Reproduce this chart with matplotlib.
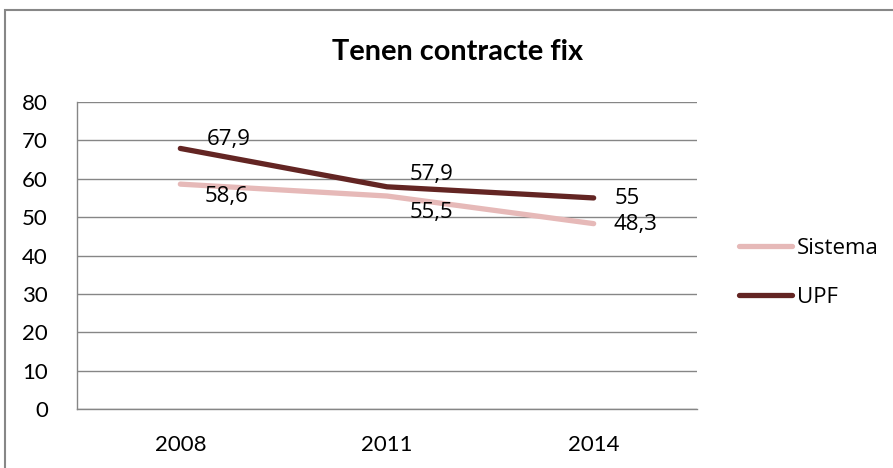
import matplotlib
matplotlib.use("Agg")
import matplotlib.pyplot as plt
from matplotlib.patches import Rectangle

categories = ["2008", "2011", "2014"]
sistema = [58.6, 55.5, 48.3]
upf = [67.9, 57.9, 55.0]
sistema_labels = ["58,6", "55,5", "48,3"]
upf_labels = ["67,9", "57,9", "55"]
y_ticks = [0, 10, 20, 30, 40, 50, 60, 70, 80]

# label offsets in pixels (style, not data)
upf_off = [(26, 9), (23, 12), (21, -1)]
sis_off = [(24, -12), (23, -16), (20, -1)]

W, H = 893, 468
fig = plt.figure(figsize=(W / 100, H / 100), dpi=100)
fig.patch.set_facecolor("white")

# outer chart border (right/bottom edges fall outside the picture)
fig.patches.append(Rectangle((5 / W, -0.2), 1.2, 1.2 - 10 / H,
                             transform=fig.transFigure, fill=False,
                             edgecolor="#878787", linewidth=1.5))

ax = fig.add_axes([77 / W, 1 - 409 / H, (697 - 77) / W, (409 - 102) / H])
x = list(range(len(categories)))

c_sis = "#E6B9B8"
c_upf = "#632523"
ax.plot(x, sistema, color=c_sis, linewidth=3.8, solid_capstyle="round", label="Sistema", zorder=3)
ax.plot(x, upf, color=c_upf, linewidth=3.8, solid_capstyle="round", label="UPF", zorder=4)

lab_font = dict(family="Open Sans", fontsize=16, color="black")
for xi, v, s, off in zip(x, upf, upf_labels, upf_off):
    ax.annotate(s, (xi, v), xytext=off, textcoords="offset pixels",
                ha="left", va="center", **lab_font)
for xi, v, s, off in zip(x, sistema, sistema_labels, sis_off):
    ax.annotate(s, (xi, v), xytext=off, textcoords="offset pixels",
                ha="left", va="center", **lab_font)

ax.set_xlim(-0.5, len(categories) - 0.5)
ax.set_ylim(0, 80)
ax.set_yticks(y_ticks)
ax.set_xticks(x)
ax.set_xticklabels(categories)
ax.yaxis.grid(True, color="#868686", linewidth=1)
ax.set_axisbelow(True)
for sp in ["top", "right"]:
    ax.spines[sp].set_visible(False)
for sp in ["left", "bottom"]:
    ax.spines[sp].set_color("#868686")
    ax.spines[sp].set_linewidth(1)
ax.tick_params(axis="both", length=0, labelsize=16)
ax.tick_params(axis="y", pad=21)
ax.tick_params(axis="x", pad=19)
for t in ax.get_xticklabels() + ax.get_yticklabels():
    t.set_fontfamily("Lato")

fig.text(458 / W, 1 - 52 / H, "Tenen contracte fix", ha="center", va="center",
         fontsize=20.8, fontweight="bold", family="Lato")

leg = fig.legend(loc="center left", bbox_to_anchor=(719 / W, 1 - 273 / H),
                 frameon=False, prop=dict(family="Open Sans", size=16),
                 handlelength=2.4, handletextpad=0.2, labelspacing=1.25)

fig.savefig("out.png", dpi=100, facecolor="white")
